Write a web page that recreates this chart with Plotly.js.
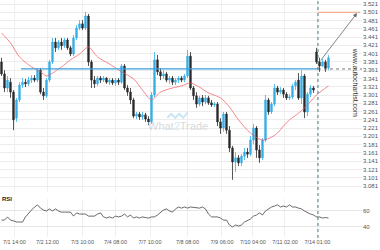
<!DOCTYPE html>
<html><head><meta charset="utf-8">
<script src="https://cdn.plot.ly/plotly-3.0.1.min.js"></script>
<style>html,body{margin:0;padding:0;background:#fff}#c{width:380px;height:250px}</style>
</head><body><div id="c"></div>
<script>
// candle index 0..109 (hourly bars, thinned)
const open  = [3.381,3.352,3.318,3.332,3.308,3.245,3.289,3.325,3.332,3.328,3.337,3.342,3.337,3.361,3.308,3.299,3.337,3.381,3.429,3.415,3.429,3.420,3.434,3.415,3.400,3.439,3.463,3.473,3.463,3.492,3.381,3.337,3.328,3.342,3.337,3.342,3.332,3.337,3.330,3.337,3.332,3.371,3.318,3.308,3.289,3.250,3.255,3.248,3.253,3.243,3.236,3.301,3.386,3.357,3.347,3.352,3.337,3.342,3.332,3.337,3.342,3.337,3.347,3.395,3.318,3.299,3.279,3.294,3.284,3.294,3.282,3.277,3.279,3.236,3.221,3.255,3.216,3.173,3.139,3.149,3.137,3.153,3.163,3.158,3.192,3.221,3.168,3.149,3.192,3.289,3.260,3.279,3.318,3.308,3.313,3.303,3.294,3.296,3.323,3.337,3.294,3.347,3.260,3.303,3.318,3.405,3.381,3.371,3.381,3.366];
const high  = [3.391,3.361,3.347,3.342,3.313,3.294,3.332,3.342,3.340,3.345,3.349,3.349,3.366,3.366,3.318,3.342,3.386,3.439,3.439,3.434,3.439,3.439,3.439,3.420,3.446,3.470,3.482,3.482,3.502,3.497,3.386,3.347,3.347,3.347,3.347,3.344,3.342,3.342,3.342,3.342,3.376,3.376,3.325,3.318,3.294,3.260,3.260,3.260,3.258,3.250,3.308,3.405,3.398,3.366,3.361,3.357,3.347,3.347,3.342,3.347,3.347,3.352,3.410,3.405,3.323,3.308,3.299,3.301,3.301,3.299,3.289,3.284,3.284,3.245,3.260,3.260,3.226,3.178,3.163,3.156,3.158,3.173,3.173,3.202,3.231,3.226,3.180,3.197,3.301,3.294,3.284,3.328,3.323,3.320,3.318,3.308,3.303,3.328,3.337,3.354,3.361,3.352,3.308,3.325,3.323,3.415,3.391,3.388,3.386,3.398];
const low   = [3.347,3.308,3.308,3.294,3.216,3.236,3.284,3.318,3.320,3.323,3.330,3.332,3.332,3.303,3.289,3.294,3.332,3.376,3.405,3.410,3.410,3.415,3.410,3.395,3.395,3.434,3.458,3.458,3.458,3.371,3.318,3.318,3.323,3.330,3.332,3.328,3.325,3.325,3.323,3.325,3.328,3.313,3.299,3.279,3.245,3.243,3.241,3.241,3.236,3.228,3.231,3.296,3.349,3.337,3.340,3.332,3.328,3.325,3.325,3.330,3.332,3.332,3.342,3.313,3.289,3.270,3.274,3.274,3.279,3.277,3.272,3.272,3.226,3.207,3.212,3.207,3.163,3.096,3.115,3.129,3.129,3.144,3.149,3.153,3.182,3.149,3.137,3.144,3.187,3.253,3.255,3.274,3.301,3.303,3.294,3.289,3.289,3.291,3.313,3.289,3.279,3.245,3.250,3.296,3.306,3.376,3.357,3.369,3.357,3.361];
const close = [3.352,3.318,3.337,3.308,3.241,3.289,3.325,3.332,3.328,3.337,3.342,3.337,3.361,3.308,3.299,3.337,3.381,3.429,3.415,3.429,3.420,3.434,3.415,3.400,3.439,3.463,3.473,3.463,3.492,3.381,3.337,3.328,3.342,3.337,3.342,3.332,3.337,3.330,3.337,3.332,3.371,3.318,3.308,3.289,3.250,3.255,3.248,3.253,3.243,3.236,3.301,3.386,3.357,3.347,3.352,3.337,3.342,3.332,3.337,3.342,3.337,3.347,3.395,3.318,3.299,3.279,3.294,3.284,3.294,3.282,3.277,3.279,3.236,3.221,3.255,3.216,3.173,3.139,3.149,3.137,3.153,3.163,3.158,3.192,3.221,3.168,3.149,3.192,3.289,3.260,3.279,3.318,3.308,3.313,3.303,3.294,3.296,3.323,3.332,3.294,3.347,3.260,3.303,3.318,3.313,3.381,3.371,3.381,3.366,3.391];
const rsi   = [48.1,48,52,48,47,45.6,45.6,45.6,52,57,60.6,64.4,67,63,60.6,59.4,62,59.4,62,59.4,58,58,58,58,53,57,55.6,55.6,55.6,53,53,53,55.6,57,52,50.6,52,50.6,53,52,53,55.6,52,54.4,50.6,52,50.6,52,51.2,50.6,52,52,54.4,57,60.6,62,59.4,58,62,64.4,63,64.4,63,64.4,63.8,63,63,64.4,62,55.6,52,52,52,50.6,48,48,41.9,39.4,41.9,40.6,41.9,45.6,48,49.4,53,54.4,57,54.4,59.4,62,64.4,65.6,67,64.4,65.6,64.4,67,64.4,64.4,63,62,59.4,57,55.6,54.4,52,52,50.6,51.2,50.6];
// moving average readings at selected candles
const maIdx = [0,3,6,10,13,15,17,20,23,26,29,32,36,40,44,47,50,53,57,60,63,66,69,73,76,79,83,87,90,92,94,96,99,102,105,109];
const maVal = [3.451,3.427,3.393,3.369,3.357,3.347,3.354,3.369,3.386,3.400,3.417,3.393,3.376,3.357,3.340,3.313,3.289,3.308,3.318,3.323,3.330,3.320,3.306,3.294,3.272,3.241,3.209,3.192,3.199,3.209,3.226,3.241,3.257,3.277,3.301,3.323];
const tickIdx = [4.3,15.3,27,38,49.5,62,73.5,83.8,94.5,105.3];
const tickText = ['7/1 14:00','7/2 12:00','7/3 10:00','7/4 08:00','7/7 10:00','7/8 08:00','7/9 06:00','7/10 04:00','7/11 02:00','7/14 01:00'];
const supportLevel = 3.364, supportStart = 6.5;
const signalIdx = 105.5;          // pattern completion bar
const targetLevel = 3.501, arrowFrom = [106, 3.381], arrowTo = [118.5, 3.499], targetEnd = 119.5;
const rsiTicks = [40, 60];

const x = open.map((_, i) => i);
const font = {family: 'Liberation Sans, Arial, sans-serif', size: 6, color: '#555'};
const xfont = {family: 'Liberation Sans, Arial, sans-serif', size: 5.5, color: '#555'};

const traces = [
  {type: 'candlestick', x, open, high, low, close, xaxis: 'x', yaxis: 'y',
   increasing: {line: {color: '#36aee8', width: 0.8}, fillcolor: '#36aee8'},
   decreasing: {line: {color: '#2b2b2b', width: 0.8}, fillcolor: '#2b2b2b'},
   whiskerwidth: 0, hoverinfo: 'skip', showlegend: false},
  {type: 'scatter', mode: 'lines', x: maIdx, y: maVal, line: {color: '#f0555a', width: 0.7, shape: 'spline', smoothing: 0.8},
   yaxis: 'y', hoverinfo: 'skip', showlegend: false},
  {type: 'scatter', mode: 'lines', x: [supportStart, signalIdx], y: [supportLevel, supportLevel], line: {color: '#3b9ddd', width: 1.3},
   yaxis: 'y', hoverinfo: 'skip', showlegend: false},
  {type: 'scatter', mode: 'lines', x: [signalIdx, 120.2], y: [supportLevel, supportLevel], line: {color: '#555', width: 0.8, dash: 'dot'},
   yaxis: 'y', hoverinfo: 'skip', showlegend: false},
  {type: 'scatter', mode: 'lines', x: [signalIdx, targetEnd], y: [targetLevel, targetLevel], line: {color: '#f4a07a', width: 1},
   yaxis: 'y', hoverinfo: 'skip', showlegend: false},
  {type: 'scatter', mode: 'lines', x, y: rsi, line: {color: '#444', width: 0.8},
   yaxis: 'y2', hoverinfo: 'skip', showlegend: false}
];

const layout = {
  width: 380, height: 250, margin: {l: 0, r: 18, t: 0, b: 12},
  paper_bgcolor: '#fff', plot_bgcolor: '#fff', showlegend: false,
  xaxis: {range: [-0.5, 120.17], anchor: 'y2', tickvals: tickIdx, ticktext: tickText, tickfont: xfont, tickangle: 0,
          ticks: '', showgrid: true, gridcolor: '#efefef', gridwidth: 1, zeroline: false,
          showline: false, rangeslider: {visible: false}, fixedrange: true},
  yaxis: {domain: [0.1933, 1], range: [3.0665, 3.5307], side: 'right', tick0: 3.081, dtick: 0.02,
          tickformat: '.3f', tickfont: font, ticks: '', showgrid: true, gridcolor: '#ececec', zeroline: false,
          showline: false},
  yaxis2: {domain: [0.0042, 0.1639], range: [26.9, 74.4], side: 'right', tickvals: rsiTicks,
           tickfont: font, ticks: '', showgrid: true, gridcolor: '#e6e6e6', zeroline: false, showline: false},
  shapes: [
    {type: 'line', xref: 'x', yref: 'paper', x0: signalIdx, x1: signalIdx, y0: 0, y1: 0.995,
     line: {color: '#4e7583', width: 1, dash: 'dot'}},
    {type: 'path', xref: 'paper', yref: 'paper',
     path: 'M 0.462,0.505 L 0.473,0.522 L 0.484,0.505 L 0.495,0.522 L 0.506,0.505 L 0.518,0.528',
     line: {color: 'rgba(110,185,230,0.35)', width: 2}}
  ],
  annotations: [
    {xref: 'x', yref: 'y', x: arrowTo[0], y: arrowTo[1], axref: 'x', ayref: 'y', ax: arrowFrom[0], ay: arrowFrom[1],
     showarrow: true, arrowhead: 2, arrowsize: 1, arrowwidth: 0.8, arrowcolor: '#666', text: ''},
    {xref: 'paper', yref: 'paper', x: 0.996, y: 0.81, text: 'www.autochartist.com', textangle: 90, showarrow: false,
     font: {family: 'Liberation Sans, Arial, sans-serif', size: 7, color: '#333'}},
    {xref: 'paper', yref: 'paper', x: 0, y: 0.1618, xanchor: 'left', yanchor: 'middle', text: '<b>RSI</b>', showarrow: false,
     font: {family: 'Liberation Sans, Arial, sans-serif', size: 6, color: '#222'}},
    {xref: 'paper', yref: 'paper', x: 0.492, y: 0.47, text: 'What<span style="color:#c4e2f3">2</span>Trade', showarrow: false,
     font: {family: 'Liberation Sans, Arial, sans-serif', size: 11, color: 'rgba(200,205,212,0.75)'}}
  ]
};
Plotly.newPlot('c', traces, layout, {staticPlot: true, displayModeBar: false});
</script></body></html>
